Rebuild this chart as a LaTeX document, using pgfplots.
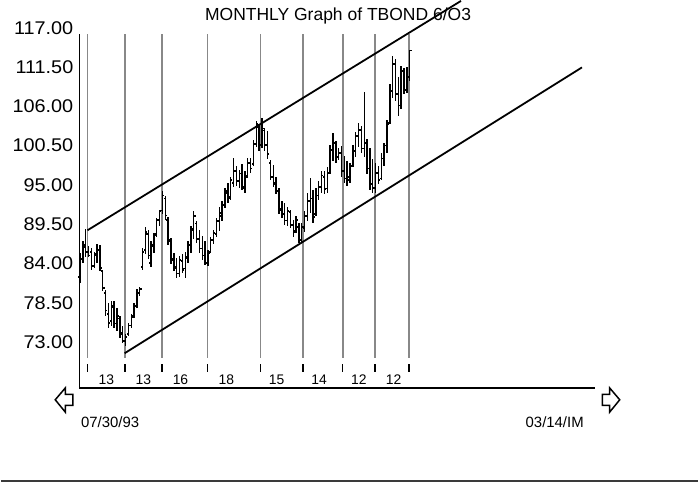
\documentclass[border=0pt]{standalone}
\usepackage{fontspec}
\setmainfont{Liberation Sans}
\newfontfamily\tickfont[FakeStretch=1.08]{Liberation Sans}
\usepackage{pgfplots}
\pgfplotsset{compat=1.18}
\usepackage{pgfplotstable}
\definecolor{lineGray}{HTML}{888888}
\definecolor{ruleGray}{HTML}{3A3A3A}

% short open / close ticks of the monthly bars
\pgfdeclareplotmark{ltick}{\pgfpathmoveto{\pgfpointorigin}\pgfpathlineto{\pgfpoint{-1.8bp}{0pt}}\pgfusepathqstroke}
\pgfdeclareplotmark{rtick}{\pgfpathmoveto{\pgfpointorigin}\pgfpathlineto{\pgfpoint{1.8bp}{0pt}}\pgfusepathqstroke}

% month index, high, low, open, close
\pgfplotstableread{
x H L O C
0 86.4 82.2 83.0 85.6
1 88.0 85.0 85.5 87.2
2 89.7 85.8 87.5 86.5
3 87.4 85.9 86.5 86.0
4 87.0 84.0 86.5 84.5
5 86.5 84.2 84.5 86.2
6 87.6 85.0 86.0 86.8
7 87.5 83.8 86.8 84.3
8 84.0 81.0 83.8 81.5
9 81.2 77.6 80.8 78.3
10 79.4 75.8 77.8 76.6
11 79.6 76.2 76.8 78.8
12 79.7 75.8 79.0 76.5
13 78.6 75.4 76.5 77.5
14 77.6 74.5 77.2 75.0
15 76.2 73.7 75.2 74.0
16 75.0 73.4 74.0 74.6
17 76.6 74.7 75.0 76.2
18 77.8 75.8 76.2 77.4
19 79.3 77.2 77.5 78.9
20 81.3 78.6 79.0 80.8
21 81.6 80.4 80.8 81.3
22 87.0 84.0 84.4 86.5
23 90.0 86.2 86.8 89.3
24 89.6 85.5 89.0 86.0
25 88.0 84.4 85.0 87.5
26 89.2 86.3 87.3 88.9
27 91.3 88.6 89.0 91.0
28 92.4 90.2 90.9 92.2
29 95.0 91.8 92.3 94.4
30 94.3 91.0 94.0 91.6
31 91.4 87.5 91.0 88.2
32 88.4 84.8 88.0 85.5
33 86.3 83.8 85.3 84.4
34 85.7 82.8 84.2 83.5
35 86.0 83.0 83.5 85.4
36 86.2 83.5 85.2 84.0
37 86.5 82.9 84.2 85.8
38 88.0 85.0 85.6 87.5
39 90.2 86.3 87.5 89.8
40 92.3 88.3 89.6 91.5
41 90.8 87.8 90.5 88.3
42 89.6 86.4 88.3 87.0
43 88.7 85.4 87.0 86.0
44 88.0 84.7 86.0 85.0
45 86.8 84.5 85.0 86.3
46 88.6 86.3 86.5 88.2
47 89.6 87.6 88.2 89.2
48 91.2 88.6 89.0 90.8
49 92.8 89.4 90.8 92.0
50 93.6 90.8 91.5 93.1
51 95.4 92.6 93.1 95.0
52 96.2 93.4 94.8 94.0
53 97.0 93.8 94.2 96.6
54 99.6 95.6 96.2 97.8
55 98.5 95.8 97.8 96.4
56 98.0 95.4 96.4 97.5
57 98.8 95.2 97.5 95.6
58 97.8 94.8 95.4 97.0
59 99.7 96.8 97.2 99.0
60 99.6 97.6 99.0 98.2
61 102.2 98.6 98.8 101.6
62 104.9 101.2 101.6 104.4
63 104.4 100.7 104.0 101.5
64 105.3 101.0 101.5 103.8
65 103.8 100.6 103.5 101.5
66 103.4 99.5 101.5 100.2
67 99.4 96.6 99.0 97.0
68 98.7 95.6 97.0 96.2
69 97.0 94.6 96.0 95.0
70 95.5 91.8 95.0 92.4
71 93.6 91.2 92.6 91.8
72 93.3 90.3 91.8 90.9
73 92.8 90.2 90.9 92.2
74 92.4 89.8 92.1 90.3
75 91.0 88.6 90.3 89.3
76 91.6 89.2 89.4 91.0
77 90.5 87.7 90.0 88.2
78 90.6 87.8 88.2 90.0
79 92.2 89.3 89.9 91.5
80 94.7 90.8 91.5 93.6
81 96.8 92.0 93.6 94.0
82 95.2 90.6 94.0 91.4
83 95.4 91.6 91.8 94.4
84 96.4 93.8 94.4 95.6
85 97.8 94.7 95.6 97.2
86 97.9 94.6 97.0 95.3
87 98.4 94.8 95.4 97.6
88 101.5 97.4 97.6 100.8
89 103.1 99.2 100.8 101.8
90 102.0 99.0 101.8 99.8
91 101.0 99.4 99.8 100.4
92 101.3 97.0 100.4 97.8
93 100.0 96.1 97.8 96.8
94 99.3 95.8 96.8 97.0
95 99.0 96.2 96.6 98.5
96 101.5 98.4 98.5 100.6
97 103.3 99.8 100.6 102.7
98 104.6 101.2 102.7 103.6
99 104.2 100.4 103.6 101.0
100 108.9 99.8 101.0 101.8
101 102.3 97.4 101.8 98.2
102 101.0 95.2 98.2 96.0
103 99.5 94.8 96.0 95.5
104 99.0 94.8 95.5 97.6
105 98.6 96.0 97.6 96.6
106 100.3 96.6 96.8 99.6
107 101.8 98.6 99.6 101.4
108 105.0 100.4 101.4 104.4
109 110.0 104.4 104.6 109.0
110 114.0 108.0 109.0 112.8
111 113.5 107.6 112.8 108.6
112 111.0 105.5 108.6 107.0
113 112.6 106.5 107.0 111.8
114 112.2 108.6 111.8 109.2
115 112.4 108.8 109.2 111.0
116 114.8 110.5 111.0 114.7
}\bars

\begin{document}
\begin{tikzpicture}
% frame of the whole 699x483 picture, in pixel units
\begin{scope}[x=1bp,y=-1bp,shift={(-78.7bp,388.3bp)}]
  \useasboundingbox (0,0) rectangle (699,483);
\end{scope}

\begin{axis}[
    at={(0,0)}, anchor=south west,
    scale only axis,
    width=517.3bp, height=355bp,
    xmin=-0.2, xmax=181.3,
    ymin=67.45, ymax=117,
    clip=false,
    axis x line*=bottom, axis y line*=left,
    axis line style={line width=1.4bp, -},
    xtick=\empty,
    ytick={73,78.5,84,89.5,95,100.5,106,111.5,117},
    yticklabels={73.00,78.50,84.00,89.50,95.00,100.50,106.00,111.50,117.00},
    major tick length=0pt,
    yticklabel style={anchor=base east, font=\tickfont\fontsize{18.5}{20}\selectfont, inner sep=0pt, xshift=-6bp},
    unbounded coords=jump,
  ]
  % cycle lines
  \addplot[lineGray, line width=1.6bp] coordinates {
    (2.61,71.68) (2.61,117) (2.61,nan)
    (15.77,71.68) (15.77,117) (15.77,nan)
    (28.78,71.68) (28.78,117) (28.78,nan)
    (44.82,71.68) (44.82,117) (44.82,nan)
    (63.52,71.68) (63.52,117) (63.52,nan)
    (78.4,71.68) (78.4,117) (78.4,nan)
    (92.43,71.68) (92.43,117) (92.43,nan)
    (103.77,71.68) (103.77,117) (103.77,nan)
    (115.7,71.68) (115.7,117)
  };
  \addplot[black, line width=1.5bp] coordinates {
    (2.61,69.74) (2.61,70.84) (2.61,nan)
    (15.77,69.74) (15.77,70.84) (15.77,nan)
    (28.78,69.74) (28.78,70.84) (28.78,nan)
    (44.82,69.74) (44.82,70.84) (44.82,nan)
    (63.52,69.74) (63.52,70.84) (63.52,nan)
    (78.4,69.74) (78.4,70.84) (78.4,nan)
    (92.43,69.74) (92.43,70.84) (92.43,nan)
    (103.77,69.74) (103.77,70.84) (103.77,nan)
    (115.7,69.74) (115.7,70.84)
  };

  % channel
  \addplot[black, line width=1.8bp] coordinates {(2.61,89.54) (134.05,121.65)};
  \addplot[black, line width=1.8bp] coordinates {(15.69,72.33) (176.6,112.34)};

  % monthly bars: high-low with close tick on the right, open on the left
  \addplot[black, only marks, mark=rtick, mark options={line width=1.7bp},
    error bars/.cd, y dir=both, y explicit, error mark=none,
    error bar style={line width=1.4bp}]
    table[x=x, y=C, y error plus expr=\thisrow{H}-\thisrow{C},
          y error minus expr=\thisrow{C}-\thisrow{L}] {\bars};
  \addplot[black, only marks, mark=ltick, mark options={line width=1.7bp}]
    table[x=x, y=O] {\bars};
\end{axis}

\begin{scope}[x=1bp,y=-1bp,shift={(-78.7bp,388.3bp)}]
  \node[anchor=base, inner sep=0pt, font=\fontsize{17.6}{20}\selectfont] at (338,20) {MONTHLY Graph of TBOND 6/O3};
  \foreach \cx/\lab in {105.7/13, 142.7/13, 180/16, 226/18, 276.4/15, 319/14, 359/12, 393.7/12}
    \node[anchor=base, inner sep=0pt, font=\fontsize{14}{16}\selectfont] at (\cx,385) {\lab};
  \node[anchor=base west, inner sep=0pt, font=\fontsize{15}{17}\selectfont] at (80.2,428.3) {07/30/93};
  \node[anchor=base west, inner sep=0pt, font=\fontsize{15}{17}\selectfont] at (526,428.3) {03/14/IM};
  % scroll arrows
  \draw[line width=1.5bp, line join=miter] (54.4,400) -- (64.6,388) -- (64.6,394.5) -- (72,394.5)
    -- (72,405.5) -- (64.6,405.5) -- (64.6,412.5) -- cycle;
  \draw[line width=1.5bp, line join=miter] (620.5,400) -- (610.3,388) -- (610.3,394.5) -- (603,394.5)
    -- (603,405.5) -- (610.3,405.5) -- (610.3,412.5) -- cycle;
  \draw[ruleGray, line width=2bp] (0,481.5) -- (699,481.5);
\end{scope}
\end{tikzpicture}
\end{document}
